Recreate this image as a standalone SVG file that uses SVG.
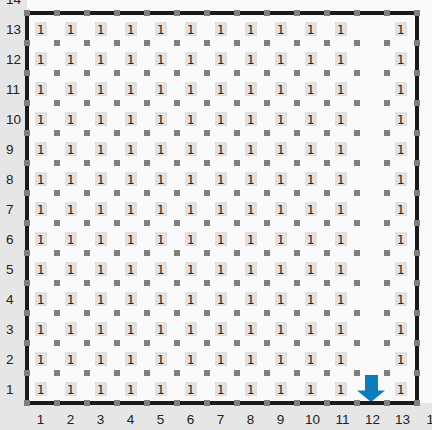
<svg xmlns="http://www.w3.org/2000/svg" width="432" height="430" viewBox="0 0 432 430">
<style>
.axis{font-family:"Liberation Sans","DejaVu Sans",sans-serif;font-size:13.5px;fill:#222}
.cell{font-family:"DejaVu Sans Mono","Liberation Mono",monospace;font-size:12.5px;fill:#222;text-anchor:middle}
</style>
<defs>
<pattern id="boxes" patternUnits="userSpaceOnUse" x="35" y="22" width="30" height="30">
<rect x="0" y="0" width="12" height="14" fill="#e1e1e1"/>
</pattern>
<pattern id="dots" patternUnits="userSpaceOnUse" x="24" y="10" width="30" height="30">
<rect x="0" y="0" width="6" height="6" fill="#7f7f7f"/>
</pattern>
</defs>
<rect x="0" y="0" width="432" height="430" fill="#e6e6e6"/>
<rect x="27" y="0" width="405" height="403" fill="#fafafa"/>
<g id="cells">
<rect x="35" y="22" width="330" height="390" fill="url(#boxes)"/>
<rect x="395" y="22" width="30" height="390" fill="url(#boxes)"/>
<text class="cell" x="40.5 70.5 100.5 130.5 160.5 190.5 220.5 250.5 280.5 310.5 340.5 400.5" y="34">111111111111</text>
<text class="cell" x="40.5 70.5 100.5 130.5 160.5 190.5 220.5 250.5 280.5 310.5 340.5 400.5" y="64">111111111111</text>
<text class="cell" x="40.5 70.5 100.5 130.5 160.5 190.5 220.5 250.5 280.5 310.5 340.5 400.5" y="94">111111111111</text>
<text class="cell" x="40.5 70.5 100.5 130.5 160.5 190.5 220.5 250.5 280.5 310.5 340.5 400.5" y="124">111111111111</text>
<text class="cell" x="40.5 70.5 100.5 130.5 160.5 190.5 220.5 250.5 280.5 310.5 340.5 400.5" y="154">111111111111</text>
<text class="cell" x="40.5 70.5 100.5 130.5 160.5 190.5 220.5 250.5 280.5 310.5 340.5 400.5" y="184">111111111111</text>
<text class="cell" x="40.5 70.5 100.5 130.5 160.5 190.5 220.5 250.5 280.5 310.5 340.5 400.5" y="214">111111111111</text>
<text class="cell" x="40.5 70.5 100.5 130.5 160.5 190.5 220.5 250.5 280.5 310.5 340.5 400.5" y="244">111111111111</text>
<text class="cell" x="40.5 70.5 100.5 130.5 160.5 190.5 220.5 250.5 280.5 310.5 340.5 400.5" y="274">111111111111</text>
<text class="cell" x="40.5 70.5 100.5 130.5 160.5 190.5 220.5 250.5 280.5 310.5 340.5 400.5" y="304">111111111111</text>
<text class="cell" x="40.5 70.5 100.5 130.5 160.5 190.5 220.5 250.5 280.5 310.5 340.5 400.5" y="334">111111111111</text>
<text class="cell" x="40.5 70.5 100.5 130.5 160.5 190.5 220.5 250.5 280.5 310.5 340.5 400.5" y="364">111111111111</text>
<text class="cell" x="40.5 70.5 100.5 130.5 160.5 190.5 220.5 250.5 280.5 310.5 340.5 400.5" y="394">111111111111</text>
</g>
<g id="arrow" fill="#0b7dbd">
<rect x="365" y="375" width="13" height="16.5"/>
<polygon points="357,390.5 385,390.5 371,402"/>
</g>
<rect id="border" x="27" y="13" width="390" height="390" fill="none" stroke="#1a1a1a" stroke-width="4"/>
<rect id="vertices" x="24" y="10" width="396" height="396" fill="url(#dots)"/>
<g id="y-axis" class="axis">
<text x="6" y="4">14</text>
<text x="6" y="34">13</text>
<text x="6" y="64">12</text>
<text x="6" y="94">11</text>
<text x="6" y="124">10</text>
<text x="6" y="154">9</text>
<text x="6" y="184">8</text>
<text x="6" y="214">7</text>
<text x="6" y="244">6</text>
<text x="6" y="274">5</text>
<text x="6" y="304">4</text>
<text x="6" y="334">3</text>
<text x="6" y="364">2</text>
<text x="6" y="394">1</text>
</g>
<g id="x-axis" class="axis" text-anchor="middle">
<text x="40.5" y="424">1</text>
<text x="70.5" y="424">2</text>
<text x="100.5" y="424">3</text>
<text x="130.5" y="424">4</text>
<text x="160.5" y="424">5</text>
<text x="190.5" y="424">6</text>
<text x="220.5" y="424">7</text>
<text x="250.5" y="424">8</text>
<text x="280.5" y="424">9</text>
<text x="312.5" y="424">10</text>
<text x="342.5" y="424">11</text>
<text x="372.5" y="424">12</text>
<text x="402.5" y="424">13</text>
<text x="434" y="424">14</text>
</g>
</svg>
